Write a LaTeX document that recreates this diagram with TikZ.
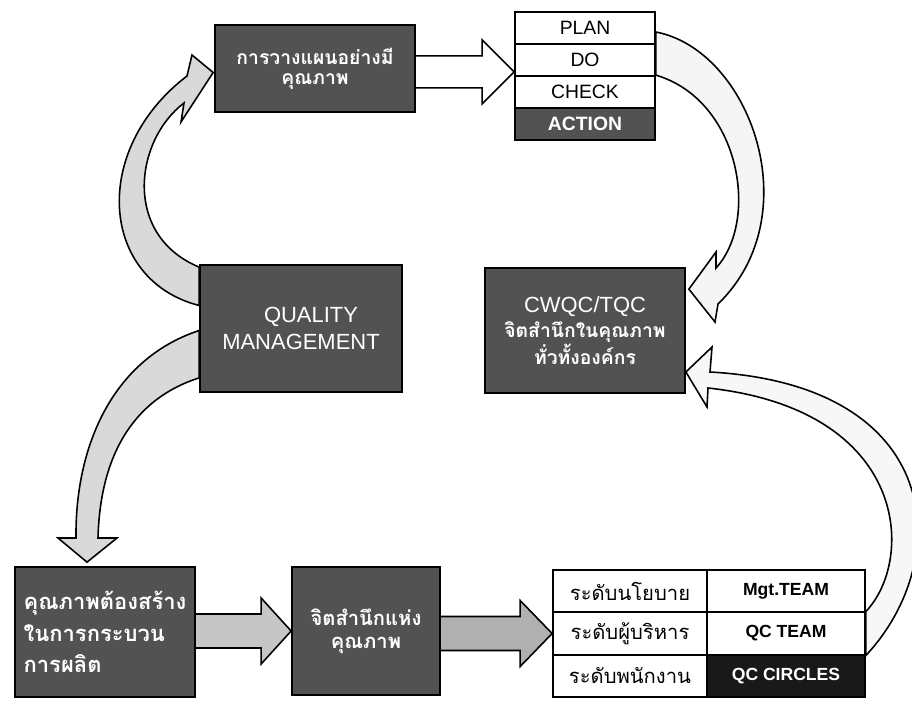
\documentclass[tikz,border=0pt]{standalone}
\usepackage{fontspec}
\setmainfont{Liberation Sans}
\newfontfamily\thaifont[Script=Thai]{Loma}
\usetikzlibrary{calc,backgrounds}

\begin{document}
\begin{tikzpicture}[
      x=0.02cm,
      y=-0.02cm,
      darkbox/.style={
        draw=black,
        line width=1pt,
        fill=black!68,
        text=white,
        align=center,
        inner sep=2pt
      },
      cell/.style={
        draw=black,
        line width=1pt,
        fill=white,
        inner sep=0pt
      },
      fatarrow/.style={
        draw=black,
        line width=0.9pt,
        line join=miter
      },
      thaitext/.style={
        font=\thaifont\bfseries\fontsize{11}{15}\selectfont
      },
      latintext/.style={
        font=\fontsize{12.5}{15}\selectfont
      },
      celltext/.style={
        font=\fontsize{11}{13}\selectfont
      },
      levelcell/.style={
        cell,
        font=\thaifont\fontsize{11.5}{13}\selectfont,
        minimum width=3.08cm,
        minimum height=0.8467cm
      },
      teamcell/.style={
        cell,
        font=\bfseries\fontsize{10}{12}\selectfont,
        minimum width=3.16cm,
        minimum height=0.8467cm
      }
    ]
      \useasboundingbox (0,0) rectangle (912,703);

      % boxes
      \node[darkbox,minimum width=4cm,minimum height=1.74cm,font=\thaifont\bfseries\fontsize{11}{11.5}\selectfont] (plan) at (315,68.5) {การวางแผนอย่างมี\\คุณภาพ};

      \foreach \n/\y/\t in {pPlan/28/PLAN,pDo/60/DO,pCheck/92/CHECK}
        \node[cell,celltext,minimum width=2.8cm,minimum height=0.64cm] (\n) at (585,\y) {\t};
      \node[cell,fill=black!68,text=white,font=\bfseries\fontsize{11}{13}\selectfont,minimum width=2.8cm,minimum height=0.64cm] (pAction) at (585,124) {ACTION};

      \node[darkbox,latintext,minimum width=4.04cm,minimum height=2.54cm,text depth=-0.25cm] (qm) at (301,328.5) {\hspace*{0.4cm}QUALITY\\MANAGEMENT};
      \node[darkbox,minimum width=4cm,minimum height=2.5cm,font=\fontsize{12.5}{14.5}\selectfont] (cwqc) at (585,330.5)
        {CWQC/TQC\\{\thaifont\bfseries\fontsize{11}{14.5}\selectfont จิตสำนึกในคุณภาพ}\\{\thaifont\bfseries\fontsize{11}{14.5}\selectfont ทั่วทั้งองค์กร}};

      \node[darkbox,align=left,minimum width=3.6cm,minimum height=2.6cm,font=\thaifont\bfseries\fontsize{12.5}{18}\selectfont] (build) at (105,632) {คุณภาพต้องสร้าง\\ในการกระบวน\\การผลิต};
      \node[darkbox,minimum width=2.96cm,minimum height=2.56cm,font=\thaifont\bfseries\fontsize{11.5}{13}\selectfont] (aware) at (366,631) {จิตสำนึกแห่ง\\คุณภาพ};

      \foreach \n/\y/\t in {lvPolicy/591.2/ระดับนโยบาย,lvExec/633.5/ระดับผู้บริหาร,lvStaff/675.8/ระดับพนักงาน}
        \node[levelcell] (\n) at (630,\y) {\t};
      \foreach \n/\y/\t in {tmMgt/591.2/Mgt.TEAM,tmQC/633.5/QC TEAM}
        \node[teamcell] (\n) at (786,\y) {\t};
      \node[teamcell,fill=black!90,text=white] (tmCircle) at (786,675.8) {QC CIRCLES};

      % arrows behind the boxes
      \begin{scope}[on background layer]
        \coordinate (a1e) at ($(pDo.south west)+(0,-5)$);
        \coordinate (a1s) at (plan.east |- a1e);
        \draw[fatarrow,fill=white] ($(a1s)+(0,-16)$) -- ($(a1e)+(-32,-16)$) -- ($(a1e)+(-32,-32)$) -- (a1e)
          -- ($(a1e)+(-32,32)$) -- ($(a1e)+(-32,16)$) -- ($(a1s)+(0,16)$);

        \coordinate (a2e) at (aware.west);
        \coordinate (a2s) at (build.east |- a2e);
        \draw[fatarrow,fill=gray!45] ($(a2s)+(0,-17)$) -- ($(a2e)+(-30,-17)$) -- ($(a2e)+(-30,-33)$) -- (a2e)
          -- ($(a2e)+(-30,33)$) -- ($(a2e)+(-30,17)$) -- ($(a2s)+(0,17)$);

        \coordinate (a3e) at (lvExec.west);
        \coordinate (a3s) at (aware.east |- a3e);
        \draw[fatarrow,fill=gray!62] ($(a3s)+(0,-17)$) -- ($(a3e)+(-32,-17)$) -- ($(a3e)+(-32,-33)$) -- (a3e)
          -- ($(a3e)+(-32,33)$) -- ($(a3e)+(-32,17)$) -- ($(a3s)+(0,17)$);

        % qm -> plan
        \draw[fatarrow,fill=gray!30] ($(qm.north west)+(0,3)$) .. controls (122,235) and (135,140) .. (184,103)
          -- (181,122) -- ($(plan.west)+(-1,4)$) -- (192,55) -- (187,76)
          .. controls (90,150) and (100,280) .. ($(qm.west)+(0,-23)$) -- cycle;

        % pdca -> cwqc
        \draw[fatarrow,fill=gray!8] ($(pPlan.east)+(0,4)$) .. controls (750,50) and (810,215) .. (718,304)
          -- (715,322) -- ($(cwqc.north east)+(3,22)$) -- (716,252) -- (716,268)
          .. controls (760,220) and (740,100) .. (pCheck.north east) -- cycle;

        % qm -> build
        \draw[fatarrow,fill=gray!30] ($(qm.west)+(0,2)$) .. controls (110,360) and (75,450) .. (76,538)
          -- (58,538) -- ($(build.north)+(-18,-4)$) -- (117,538) -- (98,538)
          .. controls (100,460) and (130,400) .. ($(qm.south west)+(0,-15)$) -- cycle;

        % table -> cwqc
        \draw[fatarrow,fill=gray!6] ($(tmQC.east)+(0,-22)$) .. controls (915,560) and (910,410) .. (708,388)
          -- (707,407) -- ($(cwqc.east)+(0,41.5)$) -- (712,347) -- (710,372)
          .. controls (945,385) and (955,560) .. ($(tmQC.east)+(0,22)$) -- cycle;
      \end{scope}
    \end{tikzpicture}
\end{document}
